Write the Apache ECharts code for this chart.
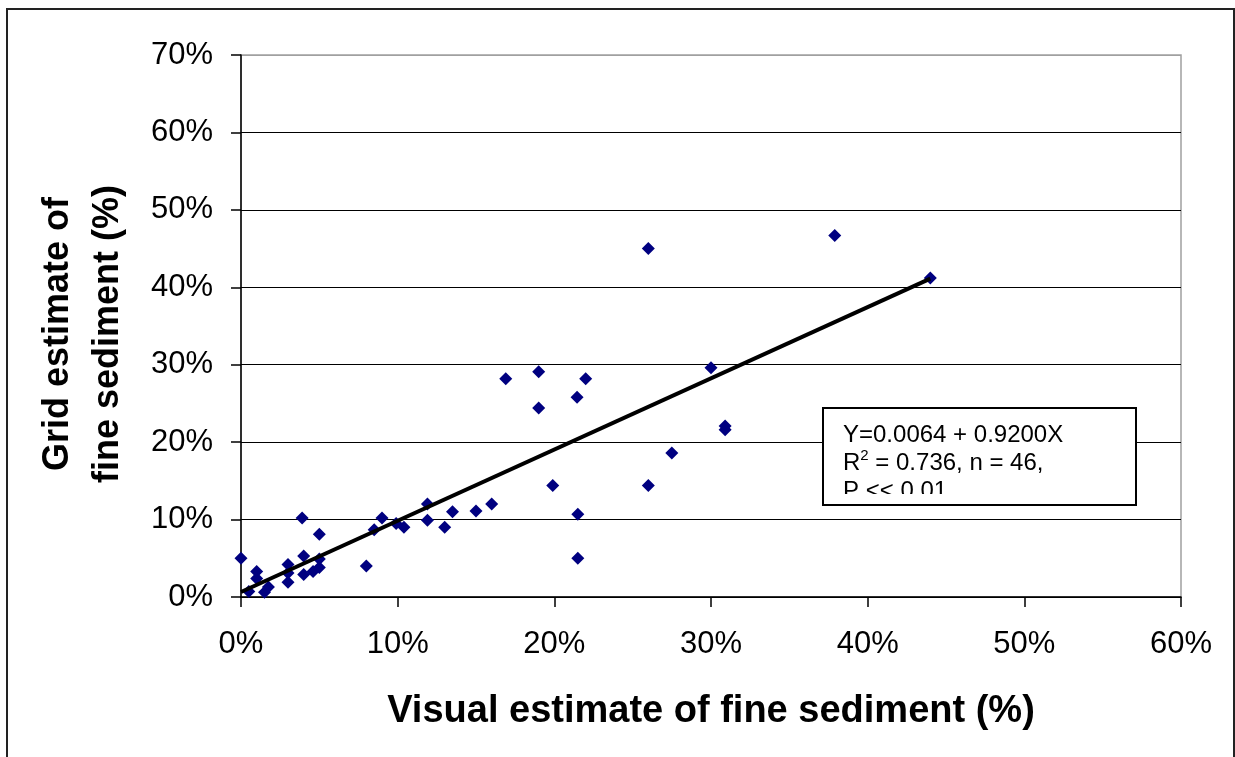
<!DOCTYPE html>
<html>
<head>
<meta charset="utf-8">
<script src="https://cdn.jsdelivr.net/npm/echarts@6/dist/echarts.min.js"></script>
<style>
  html, body { margin: 0; padding: 0; background: #fff; }
  #chart { width: 1235px; height: 757px; }
</style>
</head>
<body>
<div id="chart"></div>
<script>
// Visual estimate (x) and grid estimate (y) of fine sediment, as fractions
const visualEstimate = [0.000, 0.005, 0.010, 0.010, 0.015, 0.0175, 0.030, 0.030, 0.030, 0.039, 0.040, 0.040, 0.046, 0.050, 0.050, 0.050,
  0.080, 0.085, 0.090, 0.099, 0.104, 0.119, 0.119, 0.130, 0.135, 0.150, 0.160, 0.199, 0.215, 0.215,
  0.169, 0.190, 0.220, 0.2145, 0.190, 0.260, 0.300, 0.309, 0.309, 0.275, 0.260, 0.379, 0.440];
const gridEstimate = [0.050, 0.007, 0.033, 0.024, 0.006, 0.013, 0.042, 0.031, 0.019, 0.102, 0.053, 0.029, 0.033, 0.081, 0.049, 0.038,
  0.040, 0.087, 0.102, 0.095, 0.090, 0.120, 0.099, 0.090, 0.110, 0.111, 0.120, 0.144, 0.107, 0.050,
  0.282, 0.291, 0.282, 0.258, 0.244, 0.450, 0.296, 0.221, 0.216, 0.186, 0.144, 0.467, 0.412];
// Fitted regression line end points (Y = 0.0064 + 0.9200X)
const fitX = [0.0, 0.44];
const fitY = [0.0064, 0.4112];
const yTicks = [0, 0.1, 0.2, 0.3, 0.4, 0.5, 0.6, 0.7];
const xTicks = [0, 0.1, 0.2, 0.3, 0.4, 0.5, 0.6];
const xTitle = 'Visual estimate of fine sediment (%)';
const yTitleLines = ['Grid estimate of', 'fine sediment (%)'];
const noteLines = ['Y=0.0064 + 0.9200X', 'R{sup|2} = 0.736, n = 46,', 'P << 0.01'];

const points = visualEstimate.map((x, i) => [x, gridEstimate[i]]);
const fitLine = fitX.map((x, i) => [x, fitY[i]]);
const FONT = '"Liberation Sans", Arial, sans-serif';
const pct = v => Math.round(v * 100) + '%';
// gridlines black, the top one (plot border) grey
const splitColors = yTicks.map((t, i) => i === yTicks.length - 1 ? '#a0a0a0' : '#000');

const chart = echarts.init(document.getElementById('chart'), null, { renderer: 'canvas' });
chart.setOption({
  animation: false,
  backgroundColor: '#fff',
  grid: { left: 241, top: 55, right: 54, bottom: 160, show: true, borderColor: '#a0a0a0', borderWidth: 1.5, backgroundColor: 'transparent' },
  xAxis: {
    type: 'value', min: xTicks[0], max: xTicks[xTicks.length - 1], interval: 0.1,
    axisLine: { show: true, lineStyle: { color: '#000', width: 1.5 } },
    axisTick: { show: true, inside: false, length: 10, lineStyle: { color: '#000', width: 1.5 } },
    splitLine: { show: false },
    axisLabel: { formatter: pct, fontFamily: FONT, fontSize: 31, color: '#000', margin: 32 }
  },
  yAxis: {
    type: 'value', min: yTicks[0], max: yTicks[yTicks.length - 1], interval: 0.1,
    axisLine: { show: true, lineStyle: { color: '#000', width: 1.5 } },
    axisTick: { show: true, inside: false, length: 10, lineStyle: { color: '#000', width: 1.5 } },
    splitLine: { show: true, lineStyle: { color: splitColors, width: 1.2 } },
    axisLabel: { formatter: pct, fontFamily: FONT, fontSize: 31, color: '#000', margin: 28 }
  },
  series: [
    {
      type: 'line', data: fitLine, showSymbol: false, symbol: 'none',
      lineStyle: { color: '#000', width: 4 }, z: 3, silent: true
    },
    {
      type: 'scatter', data: points, symbol: 'diamond', symbolSize: 13,
      itemStyle: { color: '#000080', opacity: 1 }, z: 2
    }
  ],
  graphic: [
    { type: 'rect', shape: { x: 7, y: 9, width: 1227, height: 770 }, style: { fill: 'none', stroke: '#222', lineWidth: 2 }, z: 100, silent: true },
    { type: 'text', x: 711, y: 712, style: { text: xTitle, font: 'bold 38px ' + FONT, fill: '#000', align: 'center', verticalAlign: 'middle' }, z: 100 },
    { type: 'text', x: 58, y: 334, rotation: Math.PI / 2, style: { text: yTitleLines[0], font: 'bold 36px ' + FONT, fill: '#000', align: 'center', verticalAlign: 'middle' }, z: 100 },
    { type: 'text', x: 108, y: 334, rotation: Math.PI / 2, style: { text: yTitleLines[1], font: 'bold 36px ' + FONT, fill: '#000', align: 'center', verticalAlign: 'middle' }, z: 100 },
    { type: 'rect', shape: { x: 823, y: 408, width: 313, height: 97 }, style: { fill: '#fff', stroke: 'none' }, z: 100 },
    { type: 'text', x: 843, y: 435, style: { text: noteLines[0], font: '24px ' + FONT, fill: '#000', verticalAlign: 'middle' }, z: 101 },
    { type: 'text', x: 843, y: 463, style: { text: noteLines[1], font: '24px ' + FONT, fill: '#000', verticalAlign: 'middle',
        rich: { sup: { fontSize: 15, fontFamily: FONT, verticalAlign: 'top', padding: [0, 0, 14, 0] } } }, z: 101 },
    { type: 'text', x: 843, y: 491, style: { text: noteLines[2], font: '24px ' + FONT, fill: '#000', verticalAlign: 'middle' }, z: 101 },
    { type: 'rect', shape: { x: 824, y: 494, width: 311, height: 10 }, style: { fill: '#fff', stroke: 'none' }, z: 102 },
    { type: 'rect', shape: { x: 823, y: 408, width: 313, height: 97 }, style: { fill: 'none', stroke: '#000', lineWidth: 2 }, z: 103 }
  ]
});
</script>
</body>
</html>
